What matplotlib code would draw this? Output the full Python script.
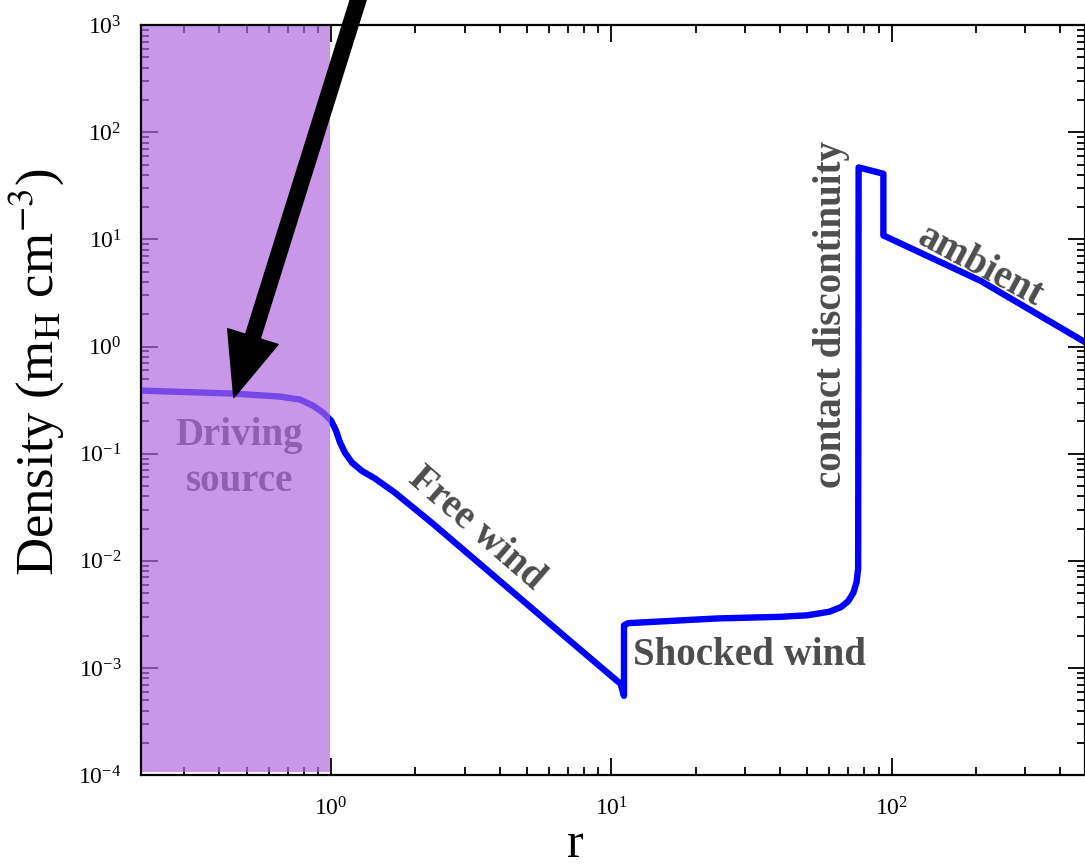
import matplotlib
matplotlib.use("Agg")
import matplotlib.pyplot as plt
from matplotlib.ticker import LogLocator, NullFormatter

plt.rcParams["font.family"] = ["Liberation Serif", "DejaVu Serif"]
plt.rcParams["mathtext.fontset"] = "stix"

# density profile of the wind-blown bubble
r = [0.21, 0.447, 0.658, 0.775, 0.862, 0.936, 1.0, 1.042, 1.077, 1.122,
     1.188, 1.29, 1.436, 1.69, 2.31, 4.0, 7.0, 10.8, 11.1, 11.1, 11.5, 24,
     40, 50, 60, 66, 70, 73, 75, 76, 76.3, 93.5, 93.5, 208, 490]
density = [0.388, 0.364, 0.341, 0.32, 0.281, 0.242, 0.204, 0.164, 0.127,
           0.102, 0.0826, 0.069, 0.0586, 0.0433, 0.0222, 0.0065, 0.00186,
           7.1e-4, 5.5e-4, 2.5e-3, 2.62e-3, 2.9e-3, 3.0e-3, 3.1e-3, 3.35e-3,
           3.7e-3, 4.2e-3, 5.0e-3, 6.3e-3, 8.5e-3, 47, 41, 10.9, 4.1, 1.1]

xlim = [0.21, 490]
ylim = [1e-4, 1e3]
source_edge = 0.995          # outer edge of the driving source region
arrow_tip = (0.45, 0.334)    # where the arrow points

text_color = "#4d4d4d"
label_font = dict(fontsize=28, fontweight="bold", color=text_color)

fig = plt.figure(figsize=(10.85, 8.67), dpi=100)
ax = fig.add_axes([0.13, 0.106, 0.87, 0.865])

ax.plot(r, density, color="#0000ff", lw=4.6, solid_joinstyle="round",
        zorder=2)

ax.set_xscale("log")
ax.set_yscale("log")
ax.set_xlim(xlim)
ax.set_ylim(ylim)

# labels
ax.text(0.47, 0.09, "Driving\nsource", ha="center", va="center",
        linespacing=1.3, zorder=2, **label_font)
ax.text(3.3, 0.02, "Free wind", rotation=-41, ha="center", va="center",
        **label_font)
ax.text(12.0, 1.3e-3, "Shocked wind", ha="left", va="center", **label_font)
ax.text(61, 2.0, "contact discontinuity", rotation=90, ha="center",
        va="center", **label_font)
ax.text(208, 5.6, "ambient", rotation=-28, ha="center", va="center",
        **label_font)

# translucent box over the driving source
ax.axvspan(xlim[0], source_edge, ymin=0.004, color="#b068de", alpha=0.69,
           lw=0, zorder=3)

ax.annotate("", xy=arrow_tip, xytext=(366, 892), textcoords="figure pixels",
            annotation_clip=False,
            arrowprops=dict(facecolor="black", edgecolor="black", width=11,
                            headwidth=38, headlength=46, shrink=0), zorder=4)

# ticks
ax.xaxis.set_major_locator(LogLocator(base=10, numticks=10))
ax.xaxis.set_minor_locator(LogLocator(base=10, subs=range(2, 10), numticks=20))
ax.yaxis.set_major_locator(LogLocator(base=10, numticks=10))
ax.yaxis.set_minor_locator(LogLocator(base=10, subs=range(2, 10), numticks=20))
ax.xaxis.set_minor_formatter(NullFormatter())
ax.yaxis.set_minor_formatter(NullFormatter())
ax.tick_params(which="both", direction="in", top=True, right=True,
               labelsize=17, width=1.3)
ax.tick_params(which="major", length=12)
ax.tick_params(which="minor", length=6)
ax.tick_params(axis="x", pad=16)
ax.tick_params(axis="y", pad=14)
for sp in ax.spines.values():
    sp.set_linewidth(1.6)
    sp.set_zorder(5)

ax.set_xlabel("r", fontsize=36)
ax.set_ylabel(r"Density (m$_\mathrm{H}$ cm$^{-3}$)", fontsize=38)
ax.xaxis.set_label_coords(0.46, -0.062)
ax.yaxis.set_label_coords(-0.08, 0.537)

fig.savefig("out.png", dpi=100)
